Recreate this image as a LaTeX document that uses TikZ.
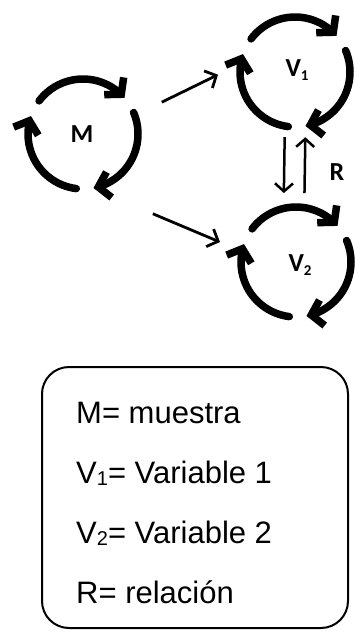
\documentclass[tikz,border=0pt]{standalone}
\usepackage{fontspec}
\setmainfont{Liberation Sans}
\newfontfamily\labfont[BoldFont={Carlito Bold}]{Carlito}
\usetikzlibrary{arrows.meta,bending,calc}

\tikzset{
  cyc/.style={line width=7.5pt, line cap=round,
    -{Straight Barb[length=11pt,width=26pt]}},
  link/.style={line width=2.8pt, -{Straight Barb[length=9pt,width=19pt]}},
  rel/.style={line width=2.5pt, -{Straight Barb[length=8pt,width=18pt]}},
  lab/.style={font=\labfont\bfseries\fontsize{26}{26}\selectfont, inner sep=0pt},
  legendtxt/.style={font=\fontsize{31}{31}\selectfont, anchor=base west, inner sep=0pt},
  legendbox/.style={draw, line width=2pt, rounded corners=27pt, inner sep=0pt},
}

% three clockwise arcs with arrow tips around a centre
\newcommand\drawcycle[2]{%
  \foreach \s [evaluate=\s as \e using \s-102] in {143,23,263} {
    \draw[cyc] ($(#1)+(\s:#2)$) arc[start angle=\s, end angle=\e, radius=#2];
  }%
}
\newcommand\labsub[1]{{\fontsize{15}{15}\selectfont\raisebox{-4pt}{#1}}}
\newcommand\legsub[1]{{\fontsize{20}{20}\selectfont\raisebox{-2pt}{#1}}}

\begin{document}
\begin{tikzpicture}[x=1pt,y=1pt]
  \useasboundingbox (0,0) rectangle (354,-632);

  % cycle centres
  \coordinate (cM)  at (83,-134);
  \coordinate (cV1) at (295,-72);
  \coordinate (cV2) at (296,-262);

  \drawcycle{cM}{55}
  \drawcycle{cV1}{55}
  \drawcycle{cV2}{55}

  % labels
  \node[lab] (M)  at (82,-134)  {M};
  \node[lab] (V1) at (297,-70)  {V\labsub{1}};
  \node[lab] (V2) at (300,-265) {V\labsub{2}};
  \node[lab] (R)  at (337,-172) {R};

  % connectors
  \draw[link] ($(cM)+(22:85)$) -- ($(cV1)+(182:77)$);
  \draw[link] ($(cM)+(-48.8:106)$) -- ($(cV2)+(165.3:78.6)$);
  \draw[rel] ($(cV1)+(-99:66)$) -- ($(cV2)+(100:70)$);
  \draw[rel] ($(cV2)+(83:69.5)$) -- ($(cV1)+(-81:66)$);

  % legend
  \node[legendbox, minimum width=306pt, minimum height=261pt] (legend) at (195,-497.5) {};
  \node[legendtxt] (l1) at (76,-423) {M= muestra};
  \node[legendtxt] (l2) at (76,-483) {V\legsub{1}= Variable 1};
  \node[legendtxt] (l3) at (76,-543) {V\legsub{2}= Variable 2};
  \node[legendtxt] (l4) at (76,-603) {R= relación};
\end{tikzpicture}
\end{document}
